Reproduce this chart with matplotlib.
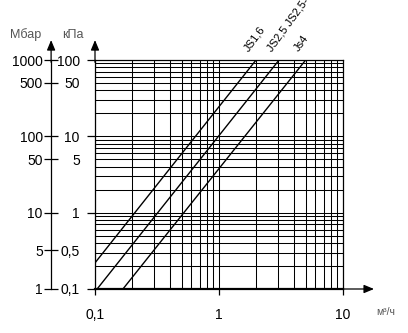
import matplotlib
matplotlib.use('Agg')
import matplotlib.pyplot as plt
from matplotlib.ticker import FixedLocator, NullFormatter, NullLocator

plt.rcParams['font.family'] = ['Liberation Sans', 'DejaVu Sans']

# flow (m3/h) and pressure drop (kPa) read at the ends of each line
js16_q = [0.1, 1.99]
js16_dp = [0.22, 100]
js25_q = [0.104, 3.05]
js25_dp = [0.1, 100]
js4_q = [0.168, 5.0]
js4_dp = [0.1, 100]
line_names = ['JS1,6', 'JS2,5 JS2,5-G', 'Js4']

x_ticks = [0.1, 1, 10]
x_labels = ['0,1', '1', '10']
# the source prints '0,5' / '5' a bit low, at about the 0.32 kPa line
kpa_ticks = [0.1, 0.32, 1, 5, 10, 50, 100]
kpa_labels = ['0,1', '0,5', '1', '5', '10', '50', '100']
mbar_labels = ['1', '5', '10', '50', '100', '500', '1000']
kpa_decades = [0.1, 1, 10, 100]

fig = plt.figure(figsize=(4.08, 3.33), dpi=100)
ax = fig.add_axes([95 / 408, 44 / 333, 248 / 408, 229 / 333])
ax.set_xscale('log')
ax.set_yscale('log')
ax.set_xlim(0.1, 10)
ax.set_ylim(0.1, 100)

lines = [(js16_q, js16_dp), (js25_q, js25_dp), (js4_q, js4_dp)]
for (q, dp), name in zip(lines, line_names):
    ax.plot(q, dp, color='black', lw=1.0)
    # label sits above the point where the line meets the top border
    ax.annotate(name, xy=(q[-1], 100), xytext=(-4, 5), textcoords='offset points',
                rotation=54, rotation_mode='anchor', ha='left', va='bottom',
                fontsize=8, annotation_clip=False)

for s in ['top', 'right', 'left']:
    ax.spines[s].set_linewidth(0.9)
ax.spines['bottom'].set_linewidth(1.6)

# x axis
ax.xaxis.set_major_locator(FixedLocator(x_ticks))
ax.set_xticklabels(x_labels)
ax.xaxis.set_minor_locator(NullLocator())
ax.tick_params(axis='x', direction='out', length=4, width=0.9, pad=10, labelsize=10)

# kPa axis
ax.yaxis.set_major_locator(FixedLocator(kpa_ticks))
ax.set_yticklabels(kpa_labels)
ax.yaxis.set_minor_locator(NullLocator())
ax.yaxis.set_minor_formatter(NullFormatter())
ax.tick_params(axis='y', direction='out', length=6, width=0.9, pad=5, labelsize=10)
for v, t in zip(kpa_ticks, ax.yaxis.get_major_ticks()):
    if v not in kpa_decades:
        t.tick1line.set_markersize(0)

# log grid drawn by hand so the tick positions above stay free
for v in [k * 10 ** e for e in (-1, 0, 1) for k in range(1, 10)]:
    ax.axhline(v, color='black', lw=0.75, zorder=0.5)
for v in [k * 10 ** e for e in (-1, 0) for k in range(1, 10)]:
    ax.axvline(v, color='black', lw=0.75, zorder=0.5)

# mbar axis
mb = ax.secondary_yaxis(-0.177)
mb.set_yscale('log')
mb.yaxis.set_major_locator(FixedLocator(kpa_ticks))
mb.set_yticklabels(mbar_labels)
mb.yaxis.set_minor_locator(NullLocator())
mb.tick_params(axis='y', direction='inout', length=10, width=0.9, pad=1, labelsize=10)
mb.spines['left'].set_linewidth(0.9)

arrow = dict(arrowstyle='-|>,head_length=0.6,head_width=0.25', color='black',
             lw=0.9, shrinkA=0, shrinkB=0, mutation_scale=10)
ax.annotate('', xy=(0, 1.087), xytext=(0, 0.99), xycoords='axes fraction',
            arrowprops=arrow, annotation_clip=False)
ax.annotate('', xy=(-0.177, 1.087), xytext=(-0.177, 0.99), xycoords='axes fraction',
            arrowprops=arrow, annotation_clip=False)
ax.annotate('', xy=(1.125, 0), xytext=(1.0, 0), xycoords='axes fraction',
            arrowprops=arrow, annotation_clip=False)

fig.text(26 / 408, 1 - 35 / 333, 'Мбар', color='#555555', fontsize=9, ha='center', va='center')
fig.text(73 / 408, 1 - 35 / 333, 'кПа', color='#555555', fontsize=9, ha='center', va='center')
fig.text(386 / 408, 1 - 312 / 333, 'м³/ч', color='#555555', fontsize=7.5, ha='center', va='center')

fig.savefig('out.png', dpi=100)
